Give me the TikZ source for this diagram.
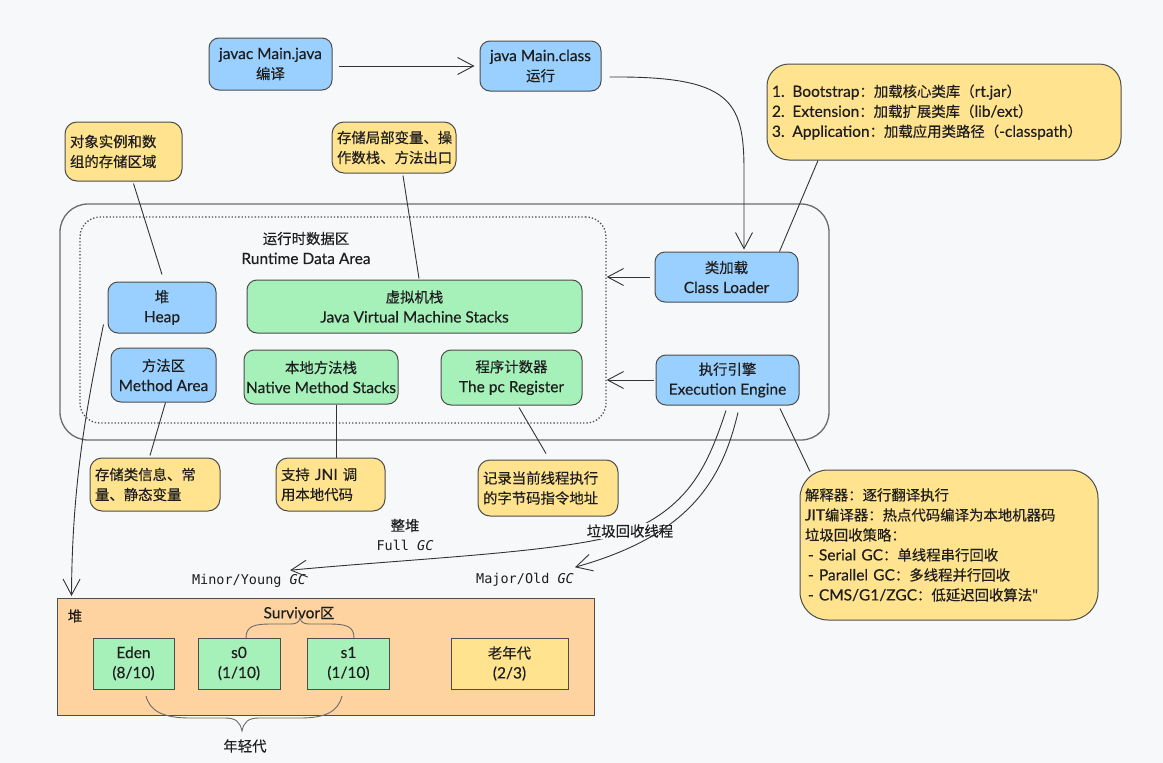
\documentclass[tikz,border=0pt]{standalone}
\usepackage{fontspec}
\setmainfont{Lato}[Ligatures=TeXOff,FakeBold=0.35]
\newfontfamily\cjkf{Noto Sans CJK SC}[Ligatures=TeXOff,FakeBold=0.3]
\newfontfamily\monof{DejaVu Sans Mono}
\newcommand\zh[1]{{\cjkf\fontsize{14.4}{20}\selectfont #1}}
\usetikzlibrary{arrows.meta}
\definecolor{bg}{HTML}{F7F8FA}
\definecolor{bluef}{HTML}{9AD0FF}
\definecolor{greenf}{HTML}{A6F0B9}
\definecolor{yellowf}{HTML}{FFE38F}
\definecolor{orangef}{HTML}{FFD39F}
\definecolor{edge}{HTML}{4D4D4D}
\definecolor{frame}{HTML}{6B6B6B}
\definecolor{txt}{HTML}{1E1E1E}
\definecolor{wire}{HTML}{333333}
\tikzset{
  every node/.style={font=\fontsize{15.5}{20}\selectfont, text=txt},
  box/.style={draw=edge, line width=1pt, rounded corners=10pt, align=center, inner sep=0pt},
  bluebox/.style={box, fill=bluef},
  greenbox/.style={box, fill=greenf},
  note/.style={draw=edge, line width=1pt, fill=yellowf, rounded corners=12pt, align=left, inner xsep=5pt, inner ysep=0pt},
  cell/.style={draw=edge, line width=1pt, align=center, inner sep=0pt, minimum height=51pt},
  wireline/.style={draw=wire, line width=0.9pt},
  arr/.style={wireline, -{Straight Barb[length=16pt,width=17pt,line width=0.9pt]}},
  plain/.style={inner sep=0pt, align=center},
  mono/.style={inner sep=0pt, font=\monof\fontsize{13.5}{18}\selectfont},
}
\begin{document}
\begin{tikzpicture}[x=1pt,y=-1pt]
\useasboundingbox (0,0) rectangle (1163,763);
\fill[bg] (0,0) rectangle (1163,763);

% frames
\node[draw=frame, line width=1.3pt, rounded corners=28pt, minimum width=769pt, minimum height=236pt, inner sep=0pt] (jvm) at (444.5,322) {};
\node[draw=edge, line width=1.3pt, dotted, rounded corners=20pt, minimum width=526pt, minimum height=206pt, inner sep=0pt] (rda) at (343,320) {};
\node[plain] (rdalabel) at (306,248) {\zh{运行时数据区}\\Runtime Data Area};

% top boxes
\node[bluebox, minimum width=123pt, minimum height=52pt] (javac) at (270.5,64) {javac Main.java\\\zh{编译}};
\node[bluebox, minimum width=121pt, minimum height=50pt] (run) at (540.5,66) {java Main.class\\\zh{运行}};

% runtime data area boxes
\node[bluebox, minimum width=108pt, minimum height=51pt] (heap) at (162,307.5) {\zh{堆}\\Heap};
\node[greenbox, minimum width=335pt, minimum height=53pt] (jvms) at (414.5,306.5) {\zh{虚拟机栈}\\Java Virtual Machine Stacks};
\node[bluebox, minimum width=105pt, minimum height=54pt] (method) at (163.5,375) {\zh{方法区}\\Method Area};
\node[greenbox, minimum width=154pt, minimum height=54pt] (native) at (321,377) {\zh{本地方法栈}\\Native Method Stacks};
\node[greenbox, minimum width=141pt, minimum height=55pt] (pc) at (511.5,377.5) {\zh{程序计数器}\\The pc Register};

% engine boxes
\node[bluebox, minimum width=143pt, minimum height=50pt] (loader) at (726.5,277) {\zh{类加载}\\Class Loader};
\node[bluebox, minimum width=143pt, minimum height=50pt] (exec) at (727.5,380) {\zh{执行引擎}\\Execution Engine};

% notes
\node[note, rounded corners=22pt, text width=344pt, minimum height=96pt] (noteCL) at (944,112) {1. Bootstrap\zh{：加载核心类库（}rt.jar\zh{）}\\2. Extension\zh{：加载扩展类库（}lib/ext\zh{）}\\3. Application\zh{：加载应用类路径（}-classpath\zh{）}};
\node[note, text width=107pt, minimum height=59pt] (noteHeap) at (123.5,151.5) {\zh{对象实例和数}\\\zh{组的存储区域}};
\node[note, text width=114pt, minimum height=51pt] (noteStack) at (394,147.5) {\zh{存储局部变量、操}\\\zh{作数栈、方法出口}};
\node[note, text width=120pt, minimum height=53pt] (noteMethod) at (155,484.5) {\zh{存储类信息、常}\\\zh{量、静态变量}};
\node[note, text width=99pt, minimum height=53pt] (noteJNI) at (330.5,484.5) {\zh{支持} JNI \zh{调}\\\zh{用本地代码}};
\node[note, text width=130pt, minimum height=56pt] (notePC) at (548,488) {\zh{记录当前线程执行}\\\zh{的字节码指令地址}};
\node[note, rounded corners=28pt, text width=288pt, minimum height=150pt] (noteExec) at (949,545) {\zh{解释器：逐行翻译执行}\\JIT\zh{编译器：热点代码编译为本地机器码}\\\zh{垃圾回收策略：}\\\hspace*{3pt}- Serial GC\zh{：单线程串行回收}\\\hspace*{3pt}- Parallel GC\zh{：多线程并行回收}\\\hspace*{3pt}- CMS/G1/ZGC\zh{：低延迟回收算法}"};

% heap detail
\node[draw=edge, line width=1pt, fill=orangef, minimum width=537pt, minimum height=117pt, inner sep=0pt] (heapbox) at (325.5,657) {};
\node[plain] (heaplabel) at (75,616) {\zh{堆}};
\node[cell, fill=greenf, minimum width=81pt] (eden) at (133.5,663.5) {Eden\\(8/10)};
\node[cell, fill=greenf, minimum width=82pt] (s0) at (239,663.5) {s0\\(1/10)};
\node[cell, fill=greenf, minimum width=82pt] (s1) at (348.5,663.5) {s1\\(1/10)};
\node[cell, fill=yellowf, minimum width=117pt] (old) at (509.5,663.5) {\zh{老年代}\\(2/3)};
\node[plain] (survlabel) at (299,613) {Survivor\zh{区}};
\node[plain] (younglabel) at (245,746) {\zh{年轻代}};

% GC labels
\node[plain] (fullgc) at (405,535) {\zh{整堆}\\{\monof\fontsize{13.5}{18}\selectfont Full \itshape GC}};
\node[mono] (minor) at (249,581) {Minor/Young \itshape GC};
\node[mono] (major) at (525,580) {Major/Old \itshape GC};
\coordinate (minorTip) at ([xshift=-16pt,yshift=4pt]minor.north east);
\coordinate (majorTip) at ([xshift=1pt,yshift=6pt]major.north east);

% connectors
\draw[arr] ([xshift=6pt,yshift=-2pt]javac.east) -- ([xshift=-5pt]run.west);
\draw[arr] ([xshift=8pt,yshift=-11pt]run.east) .. controls (730,76) and (744,100) .. (744,170) -- ([xshift=17.5pt,yshift=2pt]loader.north);
\draw[wireline] ([xshift=-126pt]noteCL.south) -- ([xshift=53pt]loader.north);
\draw[arr] ([xshift=-5pt]loader.west) -- (rda.east |- loader.west);
\draw[arr] ([xshift=-2pt]exec.west) -- (rda.east |- exec.west);
\draw[wireline] ([xshift=10pt,yshift=-2pt]noteHeap.south) -- ([yshift=7pt]heap.north);
\draw[wireline] ([xshift=9pt,yshift=-2pt]noteStack.south) -- ([xshift=4.5pt,yshift=1pt]jvms.north);
\draw[wireline] ([xshift=2pt]method.south) -- ([xshift=-5pt,yshift=2pt]noteMethod.north);
\draw[wireline] ([xshift=15pt]native.south) -- ([xshift=5.5pt]noteJNI.north);
\draw[wireline] ([xshift=7.5pt,yshift=-2pt]pc.south) -- ([xshift=-2pt,yshift=6pt]notePC.north);
\draw[wireline] ([xshift=52.5pt,yshift=-3pt]exec.south) -- ([xshift=-139pt,yshift=-2pt]noteExec.north);
\draw[arr] ([xshift=-4pt,yshift=-17pt]heap.west) .. controls (88,400) and (72,480) .. ([xshift=15pt,yshift=2pt]heapbox.north west);
\draw[arr] ([xshift=-1.5pt,yshift=-5pt]exec.south) .. controls (708,465) and (690,505) .. (630,531)
  node[fill=bg, inner sep=1pt] (gcthread) {\zh{垃圾回收线程}}
  .. controls (575,552) and (420,558) .. (minorTip);
\draw[arr] ([xshift=10.5pt,yshift=-7pt]exec.south) .. controls (722,480) and (690,535) .. (majorTip);

% braces
\draw[wireline, draw=frame] (246,638) .. controls (246,626) and (254,624) .. (272,624) -- (290,624) .. controls (297,624) and (299,622) .. (300,618) .. controls (301,622) and (303,624) .. (310,624) -- (328,624) .. controls (346,624) and (354,626) .. (354,638);
\draw[wireline, draw=frame] (146,696) .. controls (150,712) and (165,718) .. (190,718) -- (225,718) .. controls (236,718) and (240,722) .. (242,731) .. controls (244,722) and (248,718) .. (259,718) -- (300,718) .. controls (325,718) and (338,712) .. (342,696);
\end{tikzpicture}
\end{document}
